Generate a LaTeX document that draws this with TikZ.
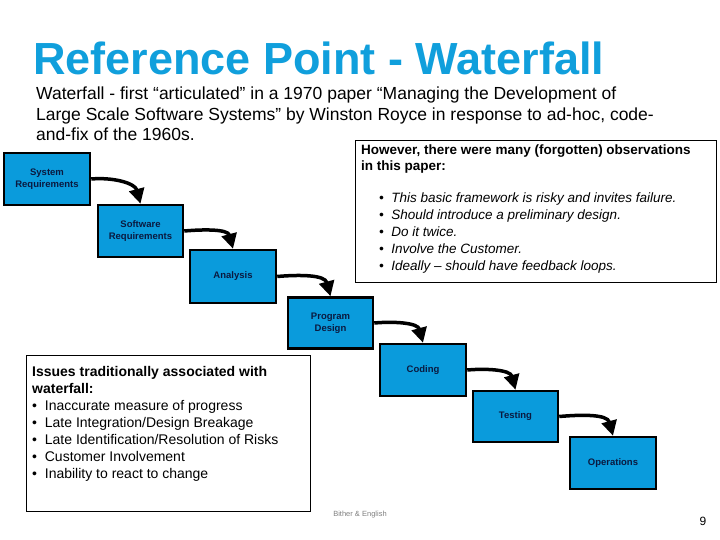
\documentclass[tikz,border=0pt]{standalone}
\usepackage{fontspec}
\setmainfont{Liberation Sans}
\usetikzlibrary{arrows.meta}
\definecolor{ttl}{HTML}{109FDC}
\definecolor{bfill}{HTML}{0A9BDC}
\definecolor{btxt}{HTML}{0A1A40}
\begin{document}
\begin{tikzpicture}[x=1pt,y=-1pt,
  stage/.style={draw=black,line width=2.5pt,fill=bfill,text=btxt,font=\fontsize{9.5}{11.5}\selectfont\bfseries,align=center,inner sep=0pt},
  flow/.style={line width=3.5pt,-{Triangle[length=15pt,width=15pt]}}]
\useasboundingbox (0,0) rectangle (720,540);
\fill[white] (0,0) rectangle (720,540);
\node[anchor=west,text=ttl,font=\fontsize{45}{48}\selectfont\bfseries,inner sep=0pt] (title) at (33,58) {Reference Point - Waterfall};
\node[anchor=north west,align=left,font=\fontsize{17.5}{20.5}\selectfont,inner sep=0pt] (intro) at (36,87)
 {Waterfall - first “articulated” in a 1970 paper “Managing the Development of\\Large Scale Software Systems” by Winston Royce in response to ad-hoc, code-\\and-fix of the 1960s.};
\draw[line width=0.8pt] (355,140) rectangle (716,282);
\node[anchor=north west,align=left,font=\fontsize{13.5}{16}\selectfont\bfseries,inner sep=0pt] (however) at (361,145)
 {However, there were many (forgotten) observations\\in this paper:};
\node[anchor=north west,align=left,font=\fontsize{13.5}{17}\selectfont\itshape,inner sep=0pt] (obs) at (379,193)
 {•\ \ This basic framework is risky and invites failure.\\•\ \ Should introduce a preliminary design.\\•\ \ Do it twice.\\•\ \ Involve the Customer.\\•\ \ Ideally – should have feedback loops.};
\draw[line width=0.8pt] (26,355) rectangle (310,511);
\node[anchor=north west,align=left,font=\fontsize{14}{17}\selectfont,inner sep=0pt] (issues) at (32,366)
 {\textbf{Issues traditionally associated with}\\\textbf{waterfall:}\\•\ \ Inaccurate measure of progress\\•\ \ Late Integration/Design Breakage\\•\ \ Late Identification/Resolution of Risks\\•\ \ Customer Involvement\\•\ \ Inability to react to change};
\node[stage,minimum width=86pt,minimum height=52pt] (s1) at (47,179) {System\\Requirements};
\node[stage,minimum width=85pt,minimum height=52pt] (s2) at (140.5,231) {Software\\Requirements};
\node[stage,minimum width=86pt,minimum height=53pt] (s3) at (233,276.5) {Analysis};
\node[stage,minimum width=85pt,minimum height=51pt] (s4) at (330.5,323) {Program\\Design};
\node[stage,minimum width=86pt,minimum height=52pt] (s5) at (423,370) {Coding};
\node[stage,minimum width=85pt,minimum height=51pt] (s6) at (515.5,416.5) {Testing};
\node[stage,minimum width=86pt,minimum height=52pt] (s7) at (613,463) {Operations};
\foreach \a/\b in {s1/s2,s2/s3,s3/s4,s4/s5,s5/s6,s6/s7}
  \draw[flow] (\a.east) to[out=5,in=105] (\b.north);
\node[text=gray,font=\fontsize{7.5}{8}\selectfont] (foot) at (360,515) {Bither \& English};
\node[font=\fontsize{12}{12}\selectfont] (pg) at (703,521) {9};
\end{tikzpicture}
\end{document}
